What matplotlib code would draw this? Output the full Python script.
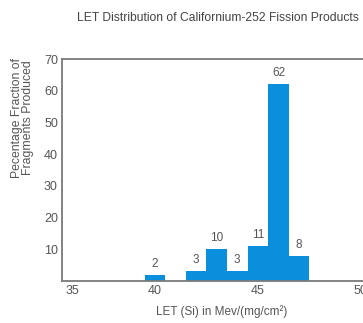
import matplotlib.pyplot as plt

# LET bins (MeV/(mg/cm^2)) and share of fission fragments in each
let_bins = [40, 42, 43, 44, 45, 46, 47]
fractions = [2, 3, 10, 3, 11, 62, 8]

x_tick_pos = [36, 40, 45, 50]
x_tick_labels = ["35", "40", "45", "50"]
y_ticks = [10, 20, 30, 40, 50, 60, 70]

plt.rcParams['font.family'] = ["Liberation Sans", "DejaVu Sans"]

bar_col = "#0a8fdc"
text_col = "#555555"
spine_col = "#7a7a7a"

fig = plt.figure(figsize=(3.63, 3.23), dpi=100)
ax = fig.add_axes([0.171, 0.130, 0.88, 0.687])

ax.bar(let_bins, fractions, width=1.0, color=bar_col, align="center")
for x, v in zip(let_bins, fractions):
    ax.text(x, v + 1.6, str(v), ha="center", va="bottom",
            fontsize=8.5, color=text_col)

ax.set_xlim(35.5, 51)
ax.set_ylim(0, 70)
ax.set_xticks(x_tick_pos)
ax.set_xticklabels(x_tick_labels)
ax.set_yticks(y_ticks)
ax.tick_params(length=0, labelsize=9, labelcolor=text_col, pad=3)

for side in ["left", "bottom", "top"]:
    ax.spines[side].set_color(spine_col)
    ax.spines[side].set_linewidth(1.3)
ax.spines["right"].set_visible(False)

ax.set_xlabel("LET (Si) in Mev/(mg/cm\u00b2)", fontsize=8.5, color=text_col,
              labelpad=6)
fig.text(0.062, 0.635, "Pecentage Fraction of\nFragments Produced",
         rotation=90, ha="center", va="center", fontsize=8.8,
         color=text_col, linespacing=0.85)
fig.text(0.60, 0.945, "LET Distribution of Californium-252 Fission Products",
         ha="center", va="center", fontsize=8.7, color="#444444")

fig.savefig("out.png", dpi=100)
